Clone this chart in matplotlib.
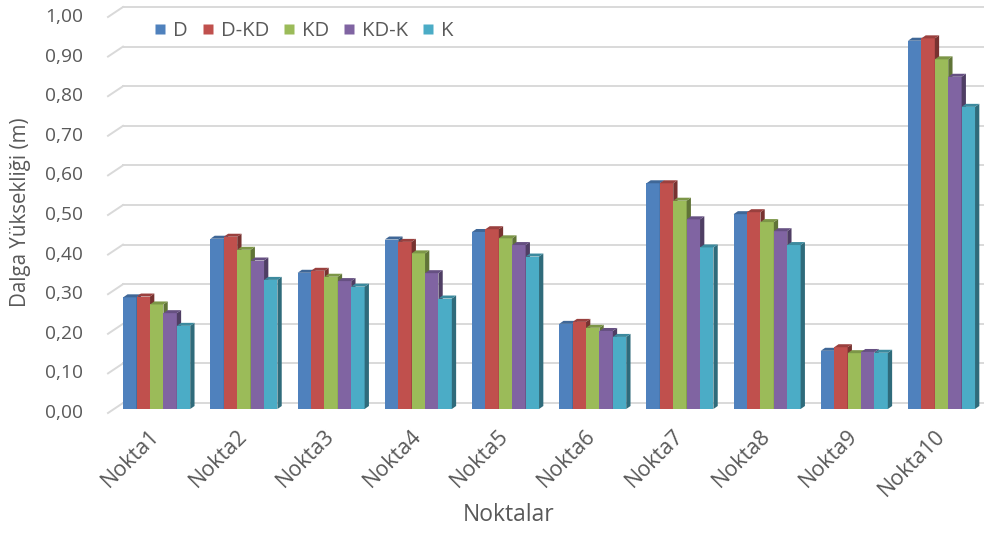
import matplotlib
matplotlib.use("Agg")
import matplotlib.pyplot as plt
import numpy as np
from matplotlib.patches import Polygon, Rectangle
from matplotlib.lines import Line2D
from matplotlib.transforms import ScaledTranslation
from matplotlib.colors import to_rgb

plt.rcParams["font.family"] = ["Open Sans", "DejaVu Sans"]

# wave heights per point and scenario (m)
categories = ["Nokta1", "Nokta2", "Nokta3", "Nokta4", "Nokta5",
              "Nokta6", "Nokta7", "Nokta8", "Nokta9", "Nokta10"]
series_names = ["D", "D-KD", "KD", "KD-K", "K"]
d_vals = [0.282, 0.430, 0.344, 0.428, 0.447, 0.215, 0.570, 0.492, 0.147, 0.930]
dkd_vals = [0.284, 0.435, 0.349, 0.422, 0.454, 0.220, 0.570, 0.497, 0.156, 0.936]
kd_vals = [0.264, 0.402, 0.334, 0.393, 0.431, 0.205, 0.526, 0.472, 0.141, 0.883]
kdk_vals = [0.242, 0.375, 0.323, 0.343, 0.414, 0.197, 0.479, 0.449, 0.144, 0.839]
k_vals = [0.210, 0.326, 0.309, 0.279, 0.385, 0.182, 0.408, 0.414, 0.142, 0.763]
yticks = [0.0, 0.1, 0.2, 0.3, 0.4, 0.5, 0.6, 0.7, 0.8, 0.9, 1.0]

colors = ["#4F81BD", "#C0504D", "#9BBB59", "#8064A2", "#4BACC6"]
text_col = "#595959"
grid_col = "#D9D9D9"

W, H = 984, 534
fig = plt.figure(figsize=(W / 100, H / 100), dpi=100)
ax = fig.add_axes([114 / W, 1 - 409 / H, 870 / W, 396 / H])
slot = 87.2
ax.set_xlim(0, 870 / slot)
ax.set_ylim(0, 1.0)
for s in ax.spines.values():
    s.set_visible(False)
ax.set_yticks([])

# size of one pixel in data units
px_x = (870 / slot) / 870
px_y = 1.0 / 396

# back wall gridlines + diagonal edge of the side wall
back = ax.transData + ScaledTranslation(9 / 100, 6 / 100, fig.dpi_scale_trans)
for v in yticks:
    ax.plot([0, 870 / slot], [v, v], color=grid_col, lw=1.4,
            transform=back, clip_on=False, zorder=1)
    ax.plot([0, -15 * px_x], [v, v - 10 * px_y], color=grid_col, lw=1.4,
            transform=back, clip_on=False, zorder=1)
    # value label at the front end of the diagonal
    ax.text(-31 * px_x, v - 4 * px_y, f"{v:.2f}".replace(".", ","),
            ha="right", va="center", fontsize=13.8, color=text_col, clip_on=False)


def shade(c, f):
    r, g, b = to_rgb(c)
    return (r * f, g * f, b * f)


all_vals = [d_vals, dkd_vals, kd_vals, kdk_vals, k_vals]
bw = 13.4 * px_x
dx = 4.3 * px_x
dy = 3.0 * px_y
centers = np.arange(len(categories)) + 0.49

for i, c in enumerate(centers):
    x_start = c - 2.5 * bw
    for j, vals in enumerate(all_vals):
        v = vals[i]
        x0 = x_start + j * bw
        z = 3 + j * 3
        front = Rectangle((x0, 0), bw, v, facecolor=colors[j], edgecolor="none", zorder=z)
        side = Polygon([(x0 + bw, 0), (x0 + bw, v), (x0 + bw + dx, v + dy), (x0 + bw + dx, dy)],
                       closed=True, facecolor=shade(colors[j], 0.62), edgecolor="none", zorder=z + 1)
        top = Polygon([(x0, v), (x0 + dx, v + dy), (x0 + bw + dx, v + dy), (x0 + bw, v)],
                      closed=True, facecolor=shade(colors[j], 0.8), edgecolor="none", zorder=z + 2)
        ax.add_patch(side)
        ax.add_patch(front)
        ax.add_patch(top)

ax.set_xticks(centers)
ax.set_xticklabels(categories, rotation=45, ha="right", va="center",
                   rotation_mode="anchor", fontsize=15.5, color=text_col)
ax.tick_params(axis="x", length=0, pad=17)

# legend with square markers
handles = [Line2D([], [], linestyle="none", marker="s", markersize=7.4,
                  markerfacecolor=col, markeredgecolor="none") for col in colors]
fig.legend(handles, series_names, loc="center left", bbox_to_anchor=(153 / W, 1 - 31 / H),
           ncol=5, frameon=False, fontsize=14.6, handlelength=0.7,
           handletextpad=0.3, columnspacing=0.62, labelcolor=text_col, borderpad=0,
           borderaxespad=0)

fig.text(21 / W, 1 - 212 / H, "Dalga Yüksekliği (m)", rotation=90, ha="center", va="center",
         fontsize=14.8, color=text_col)
fig.text(509 / W, 1 - 515 / H, "Noktalar", ha="center", va="center", fontsize=16.5, color=text_col)

fig.savefig("out.png", dpi=100)
